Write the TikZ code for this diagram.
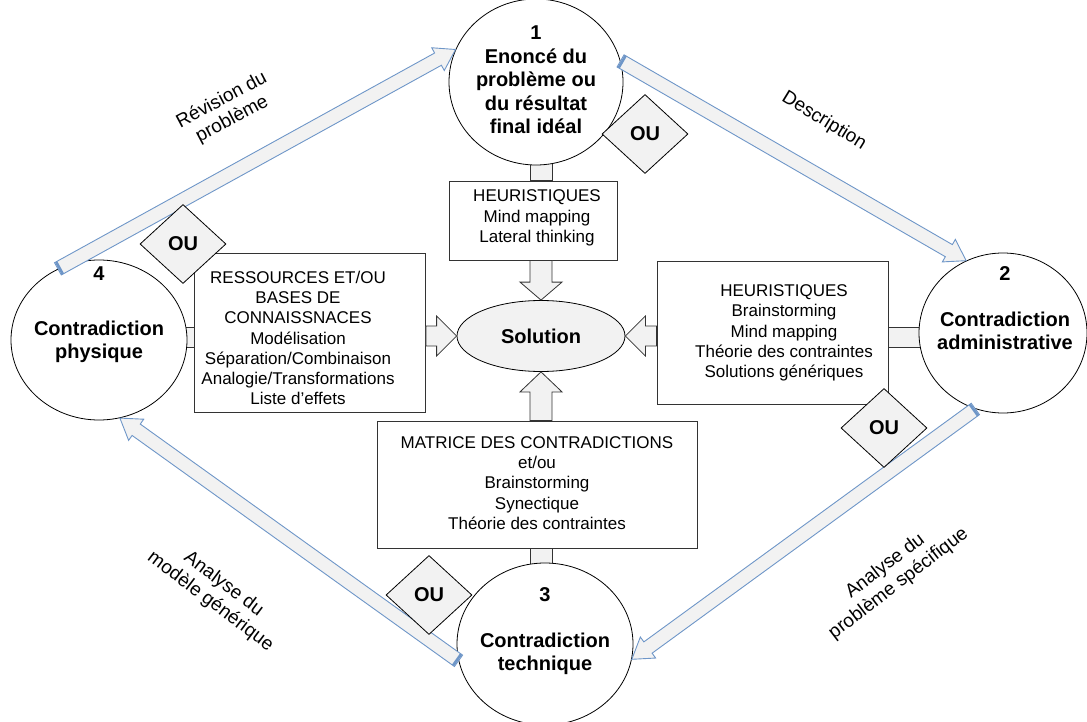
\documentclass[tikz,border=0pt]{standalone}
\usepackage{fontspec}
\setmainfont{Liberation Sans}
\usetikzlibrary{calc,shapes.geometric,backgrounds}

\definecolor{linkblue}{RGB}{110,150,200}
\definecolor{panelgray}{RGB}{242,242,242}

% block arrow: style, from, to, half shaft, half head, head length
\newcommand\fatarrow[6]{%
  \coordinate (fa-h) at ($(#3)!#6!(#2)$);
  \draw[#1] ($(#2)!#4!90:(#3)$) -- ($(fa-h)!#4!90:(#3)$) -- ($(fa-h)!#5!90:(#3)$)
    -- (#3) -- ($(fa-h)!#5!-90:(#3)$) -- ($(fa-h)!#4!-90:(#3)$) -- ($(#2)!#4!-90:(#3)$) -- cycle;
}

\begin{document}
\begin{tikzpicture}[x=1pt,y=-1pt,
    phase/.style={draw,ellipse,fill=white,line width=0.8pt,inner sep=0pt},
    phasetxt/.style={font=\fontsize{20}{23.5}\selectfont\bfseries,align=center,inner sep=0pt},
    box/.style={draw=black!80,fill=white,line width=0.8pt,inner sep=0pt},
    boxtxt/.style={font=\fontsize{17}{20.3}\selectfont,align=center,inner sep=0pt},
    gate/.style={draw,diamond,fill=panelgray,line width=0.8pt,inner sep=0pt,
      minimum width=86pt,minimum height=79pt,font=\fontsize{20}{23}\selectfont\bfseries},
    bar/.style={draw=black!80,fill=panelgray,line width=0.8pt},
    inarrow/.style={draw=black!80,fill=panelgray,line width=0.8pt,line join=miter},
    looparrow/.style={draw=linkblue,fill=panelgray,line width=0.9pt,line join=miter},
    lbl/.style={font=\fontsize{19}{22}\selectfont,align=center,inner sep=0pt}]
  \useasboundingbox (0,0) rectangle (1087,722);

  % phases
  \node[phase,minimum width=174pt,minimum height=166pt] (c1) at (536,82) {};
  \node[phase,minimum width=168pt,minimum height=160pt] (c2) at (1003,333) {};
  \node[phase,minimum width=176pt,minimum height=162pt] (c3) at (545,644) {};
  \node[phase,minimum width=176pt,minimum height=160pt] (c4) at (99,340) {};

  \node[phasetxt] (t1) at (536,80) {1\\Enoncé du\\problème ou\\du résultat\\final idéal};
  \node[phasetxt] (t2) at (1005,308) {2\\[22.5pt]Contradiction\\administrative};
  \node[phasetxt] (t3) at (545,631) {3\\[22.5pt]Contradiction\\technique};
  \node[phasetxt] (t4) at (99,315) {4\\[31pt]Contradiction\\physique};

  % tool boxes
  \node[box,minimum width=168pt,minimum height=79pt] (hTop) at (533,220.5) {};
  \node[boxtxt] (hTopT) at (537,218) {HEURISTIQUES\\Mind mapping\\Lateral thinking};
  \node[box,minimum width=231pt,minimum height=159pt] (res) at (310,332.5) {};
  \node[boxtxt] (resT) at (298,338) {RESSOURCES ET/OU\\BASES DE\\CONNAISSNACES\\Modélisation\\Séparation/Combinaison\\Analogie/Transformations\\Liste d’effets};
  \node[box,minimum width=231pt,minimum height=143pt] (hRight) at (772.5,332.5) {};
  \node[boxtxt] (hRightT) at (784,333) {HEURISTIQUES\\Brainstorming\\Mind mapping\\Théorie des contraintes\\Solutions génériques};
  \node[box,minimum width=320pt,minimum height=127pt] (mat) at (537,484.5) {};
  \node[boxtxt] (matT) at (537,483) {MATRICE DES CONTRADICTIONS\\et/ou\\Brainstorming\\Synectique\\Théorie des contraintes};

  \node[phase,fill=panelgray,minimum width=168pt,minimum height=71pt,
    font=\fontsize{20}{23}\selectfont\bfseries] (sol) at (541,336) {\raisebox{-3pt}{Solution}};

  % links phase -> box
  \begin{scope}[on background layer]
    \draw[bar] ($(sol.north |- c1.center)+(-11,0)$) rectangle ($(sol.north |- hTop.north)+(11,0)$);
    \draw[bar] ($(sol.south |- mat.south)+(-11,0)$) rectangle ($(sol.south |- c3.center)+(11,0)$);
    \draw[bar] ($(c4.center |- sol.west)+(0,-9)$) rectangle ($(res.west |- sol.west)+(0,11)$);
    \draw[bar] ($(hRight.east |- sol.east)+(0,-9)$) rectangle ($(c2.center |- sol.east)+(0,11)$);
  \end{scope}

  % box -> solution
  \fatarrow{inarrow}{sol.north |- hTop.south}{sol.north}{11pt}{21pt}{18pt}
  \fatarrow{inarrow}{sol.south |- mat.north}{sol.south}{11pt}{21pt}{20pt}
  \fatarrow{inarrow}{res.east |- sol.west}{sol.west}{10pt}{20pt}{20pt}
  \fatarrow{inarrow}{hRight.west |- sol.east}{sol.east}{10pt}{20pt}{20pt}

  % cycle
  \foreach \s/\e in {c4.120/c1.158, c1.14/c2.117, c2.250/c3.350, c3.191/c4.285} {
    \fatarrow{looparrow}{\s}{\e}{7pt}{13pt}{20pt}
    \coordinate (fa-t) at ($(\s)!1.8pt!(\e)$);
    \draw[linkblue,line width=2.6pt] ($(fa-t)!7pt!90:(\e)$) -- ($(fa-t)!7pt!-90:(\e)$);
  }

  \node[lbl,rotate=28] (l1) at (227,110) {Révision du\\problème};
  \node[lbl,rotate=-31.5] (l2) at (824,121) {Description};
  \node[lbl,rotate=37.5] (l3) at (892,575) {Analyse du\\problème spécifique};
  \node[lbl,rotate=-37] (l4) at (217,593) {Analyse du\\modèle générique};

  % OU gates
  \node[gate] (g1) at (645,134) {OU};
  \node[gate] (g2) at (884,428) {OU};
  \node[gate] (g3) at (429,595) {OU};
  \node[gate] (g4) at (183,244) {OU};
\end{tikzpicture}
\end{document}
